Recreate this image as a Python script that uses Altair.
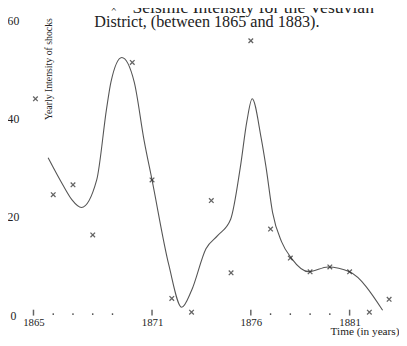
import altair as alt
import pandas as pd

# Observed yearly intensities (crosses)
point_years = [1865.1, 1866, 1867, 1868, 1870, 1871, 1872, 1873, 1874, 1875,
               1876, 1877, 1878, 1879, 1880, 1881, 1882, 1883]
point_values = [44.0, 24.5, 26.5, 16.3, 51.4, 27.5, 3.4, 0.6, 23.3, 8.6,
                55.8, 17.5, 11.6, 8.8, 9.8, 8.8, 0.6, 3.2]

# Hand-drawn smoothing curve
curve_years = [1865.74, 1866.54, 1866.94, 1867.43, 1868.2, 1868.7, 1868.92, 1869.47,
               1870.1, 1870.6, 1871.0, 1871.85, 1872.5, 1873.0, 1873.73, 1874.33,
               1874.98, 1875.47, 1875.8, 1876.07, 1876.52, 1876.77, 1877.1, 1877.56,
               1878.05, 1878.95, 1879.9, 1881.0, 1882.67]
curve_values = [32.0, 26.1, 23.5, 21.9, 27.5, 42.0, 47.4, 52.4,
                47.4, 35.5, 27.5, 10.2, 1.6, 5.0, 13.5, 16.2,
                19.5, 30.1, 39.4, 44.0, 36.1, 30.1, 20.9, 14.9,
                11.6, 8.8, 9.8, 8.8, 1.0]

major_ticks = [1865, 1871, 1876, 1881]
minor_ticks = [1866, 1867, 1868, 1869, 1877, 1878, 1879, 1880]
y_ticks = [0, 20, 40, 60]

title_line1 = "Seismic Intensity for the Vesuvian"
title_line2 = "District, (between 1865 and 1883)."
legend_mark = "×"
x_title = "Time (in years)"
y_title = "Yearly Intensity of shocks"

FONT = "Liberation Serif"
INK = "#222222"

df_points = pd.DataFrame({"year": point_years, "value": point_values})
df_curve = pd.DataFrame({"year": curve_years, "value": curve_values})
df_major = pd.DataFrame({"year": major_ticks, "value": [0] * len(major_ticks)})
df_minor = pd.DataFrame({"year": minor_ticks, "value": [0] * len(minor_ticks)})

X = alt.Scale(domain=[1865, 1883.5], nice=False, zero=False)
Y = alt.Scale(domain=[0, 60], nice=False)

XAXIS = alt.Axis(
    values=major_ticks, format="d", title=x_title,
    labelFont=FONT, labelFontSize=11, labelColor=INK,
    labelPadding=2, labelBaseline="top", labelFlush=False,
    ticks=False, tickSize=0, domain=False, grid=False,
    titleFont=FONT, titleFontSize=11.5, titleFontWeight="normal", titleColor=INK,
    titleX=373, titleY=20, titleAlign="right", titleBaseline="alphabetic",
)
YAXIS = alt.Axis(
    values=y_ticks, title=y_title,
    labelFont=FONT, labelFontSize=12, labelColor=INK,
    labelAlign="center", labelBaseline="middle", labelPadding=21,
    ticks=False, tickSize=0, domain=False, grid=False,
    titleFont=FONT, titleFontSize=10, titleFontWeight="normal", titleColor=INK,
    titleAngle=270, titleX=15.5, titleY=49.5, titleAlign="center",
    titleBaseline="middle",
)


def xy():
    return dict(
        x=alt.X("year:Q", scale=X, axis=XAXIS),
        y=alt.Y("value:Q", scale=Y, axis=YAXIS),
    )


curve = alt.Chart(df_curve).mark_line(
    interpolate="monotone", color="#555555", strokeWidth=1.1
).encode(**xy())

points = alt.Chart(df_points).mark_point(
    shape="M-1,-1L1,1M-1,1L1,-1", filled=False, size=22, strokeWidth=1.3, color=INK
).encode(**xy())

major = alt.Chart(df_major).mark_tick(
    orient="vertical", size=6, thickness=1.5, color=INK, yOffset=-2.5
).encode(**xy())

minor = alt.Chart(df_minor).mark_circle(
    size=3, color="#444444", opacity=1, yOffset=-1
).encode(**xy())

t1 = alt.Chart(pd.DataFrame({"t": [title_line1]})).mark_text(
    align="left", baseline="alphabetic", font=FONT, fontSize=18, color=INK
).encode(x=alt.value(101), y=alt.value(-7), text="t:N")

tm = alt.Chart(pd.DataFrame({"t": [legend_mark]})).mark_text(
    align="center", baseline="alphabetic", font=FONT, fontSize=11, color=INK
).encode(x=alt.value(82), y=alt.value(-8), text="t:N")

t2 = alt.Chart(pd.DataFrame({"t": [title_line2]})).mark_text(
    align="left", baseline="alphabetic", font=FONT, fontSize=16.5, color=INK
).encode(x=alt.value(62), y=alt.value(7), text="t:N")

chart = alt.layer(curve, points, major, minor, t1, tm, t2).properties(
    width=373, height=301,
    autosize=alt.AutoSizeParams(type="none"),
    padding={"left": 26, "top": 9, "right": 0, "bottom": 20},
    background="white",
).configure_view(stroke=None)

chart.save("out.html", embed_options={"renderer": "svg", "actions": False})
